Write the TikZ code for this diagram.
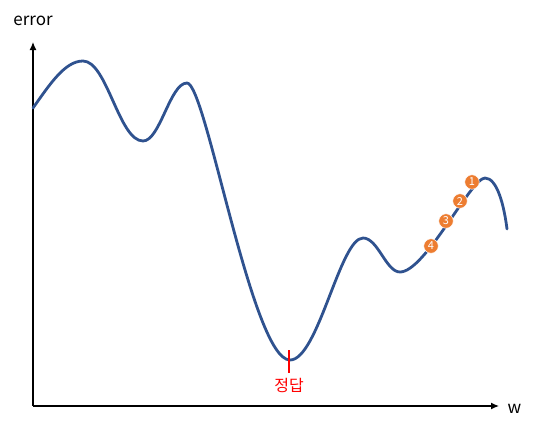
\documentclass[tikz,border=0pt]{standalone}
\usepackage{fontspec}
\setmainfont{Noto Sans CJK KR}
\usetikzlibrary{arrows.meta}
\definecolor{curveblue}{HTML}{2F528F}
\definecolor{markorange}{HTML}{ED7D31}
\definecolor{answerred}{HTML}{FF0000}
\tikzset{
  axis/.style={line width=1.3pt,-{Latex[length=8pt,width=7pt]}},
  errcurve/.style={curveblue,line width=2.8pt,line cap=round},
  stepmark/.style={circle,fill=markorange,draw=white,line width=0.5pt,inner sep=0pt,minimum size=14.5pt,text=white,font=\fontsize{11}{11}\selectfont},
  lbl/.style={font=\fontsize{17}{19}\selectfont,inner sep=0pt}
}
\begin{document}
\begin{tikzpicture}[x=1pt,y=-1pt]
\useasboundingbox (0,0) rectangle (534,429);
\coordinate (O) at (33,406);
\coordinate (Ytip) at (33,42);
\coordinate (Xtip) at (499,406);
\draw[axis] (O) -- (Ytip);
\draw[axis] (O) -- (Xtip);
\node[lbl,anchor=base] (err) at (33,25) {error};
\node[lbl,anchor=base] (w) at (514.5,413) {w};
\coordinate (c0) at (33,108);
\coordinate (c1) at (83,61);
\coordinate (c2) at (143,141);
\coordinate (c3) at (187,83);
\coordinate (c4) at (290,360);
\coordinate (c5) at (363,238);
\coordinate (c6) at (400,272);
\coordinate (c7) at (485,178);
\coordinate (c8) at (507,229);
\draw[errcurve] (c0) .. controls (50,84) and (65,61) .. (c1)
  .. controls (107,61) and (119,141) .. (c2)
  .. controls (160,141) and (170,83) .. (c3)
  .. controls (206,83) and (252,360) .. (c4)
  .. controls (318,360) and (340,238) .. (c5)
  .. controls (378,238) and (386,272) .. (c6)
  .. controls (425,272) and (471,178) .. (c7)
  .. controls (497,178) and (504,205) .. (c8);
\coordinate (tickTop) at (289,350);
\coordinate (tickBot) at (289,373);
\draw[answerred,line width=2.8pt] (tickTop) -- (tickBot);
\node[lbl,text=answerred,font=\fontsize{16}{18}\selectfont] (ans) at (289,385.5) {정답};
\node[stepmark] (m1) at (472,182) {1};
\node[stepmark] (m2) at (460,201) {2};
\node[stepmark] (m3) at (446,221) {3};
\node[stepmark] (m4) at (431,246) {4};
\end{tikzpicture}
\end{document}
